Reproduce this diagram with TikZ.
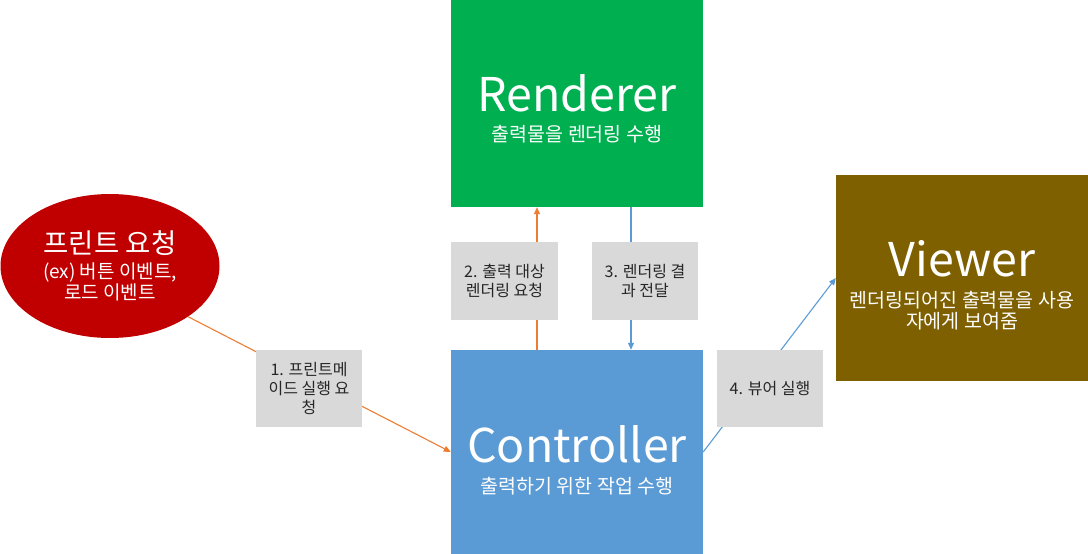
\documentclass[tikz,border=0pt]{standalone}
\usepackage{fontspec}
\setmainfont{Noto Sans CJK KR}
\usetikzlibrary{shapes.geometric,arrows.meta}
\definecolor{cred}{HTML}{C00000}
\definecolor{cgreen}{HTML}{00B050}
\definecolor{cblue}{HTML}{5B9BD5}
\definecolor{cbrown}{HTML}{7F6000}
\definecolor{cgray}{HTML}{D9D9D9}
\definecolor{corange}{HTML}{ED7D31}
\definecolor{ctext}{HTML}{262626}
\tikzset{
  bigbox/.style={rectangle, inner sep=0pt, minimum width=252pt},
  boxtext/.style={inner sep=0pt, text=white, align=center, font=\fontsize{19.5}{21}\selectfont},
  lbl/.style={rectangle, fill=cgray, inner sep=0pt, minimum width=106pt, minimum height=77pt, align=center, text=ctext, font=\fontsize{16}{19}\selectfont},
  conn/.style={line width=1.1pt, -{Triangle[length=7pt,width=6pt]}},
}
\newcommand{\ttlfont}{\fontsize{46.5}{50}\selectfont}
\begin{document}
\begin{tikzpicture}[x=1pt,y=-1pt]
\useasboundingbox (0,0) rectangle (1088,554);
\node[ellipse, fill=cred, inner sep=0pt, minimum width=219pt, minimum height=144pt, text=white, align=center, font=\fontsize{19}{21}\selectfont] (ell) at (110,266)
  {{\fontsize{27.5}{30}\selectfont 프린트 요청}\\[4pt](ex) 버튼 이벤트,\\로드 이벤트};
\node[bigbox, fill=cgreen, minimum height=207pt] (ren) at (577,103.5) {};
\node[boxtext] (rent) at ([yshift=-5pt]ren.center) {{\ttlfont Renderer}\\[9pt]출력물을 렌더링 수행};
\node[bigbox, fill=cblue, minimum height=204pt] (ctl) at (577,452) {};
\node[boxtext] (ctlt) at ([yshift=-8pt]ctl.center) {{\ttlfont Controller}\\[10pt]출력하기 위한 작업 수행};
\node[bigbox, fill=cbrown, minimum height=206pt] (vw) at (962,278) {};
\node[boxtext] (vwt) at ([yshift=-7pt]vw.center) {{\ttlfont Viewer}\\[10pt]렌더링되어진 출력물을 사용\\자에게 보여줌};
\draw[conn, corange] (ell.-33) -- (ctl.west);
\draw[conn, corange] ([xshift=-40pt]ctl.north) -- ([xshift=-40pt]ren.south);
\draw[conn, cblue] ([xshift=54pt]ren.south) -- ([xshift=54pt]ctl.north);
\draw[conn, cblue] (ctl.east) -- (vw.west);
\node[lbl] (l1) at (309,388.5) {1. 프린트메\\이드 실행 요\\청};
\node[lbl, minimum height=78pt, minimum width=107pt] (l2) at (504.5,281) {2. 출력 대상\\렌더링 요청};
\node[lbl, minimum height=78pt] (l3) at (645,281) {3. 렌더링 결\\과 전달};
\node[lbl] (l4) at (770,388.5) {4. 뷰어 실행};
\end{tikzpicture}
\end{document}
